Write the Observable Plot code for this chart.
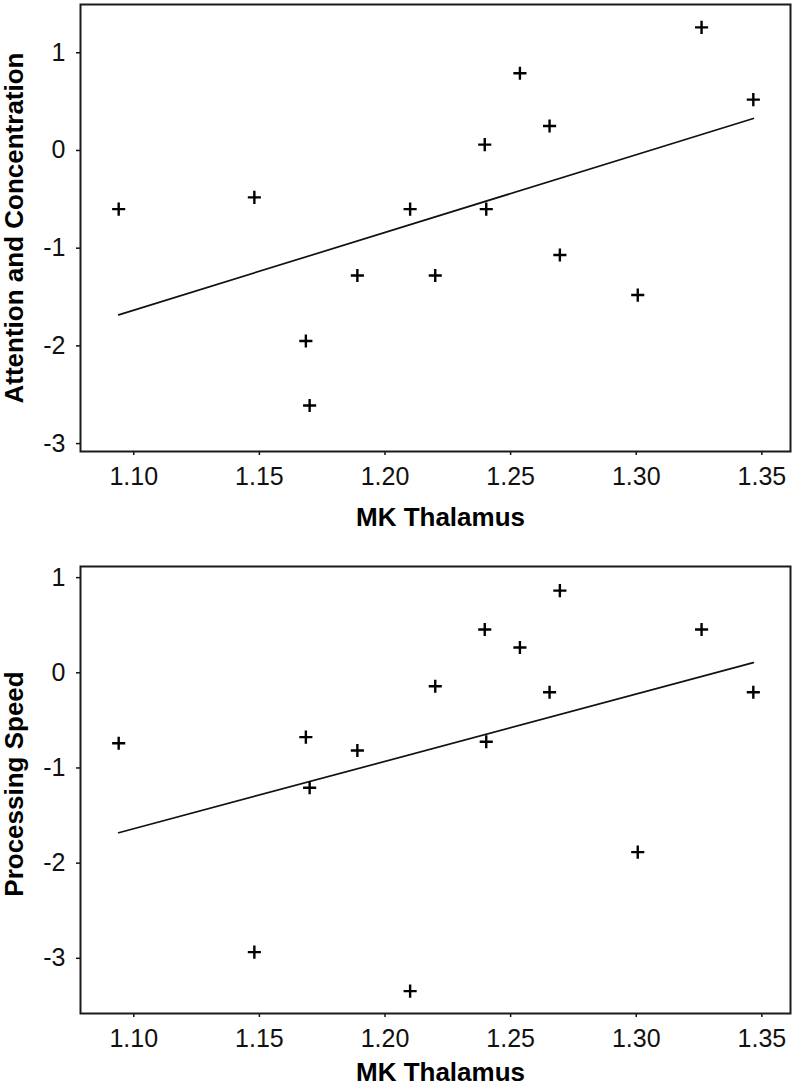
<!DOCTYPE html>
<html>
<head>
<meta charset="utf-8">
<script src="https://cdn.jsdelivr.net/npm/d3@7"></script>
<script src="https://cdn.jsdelivr.net/npm/@observablehq/plot@0.6"></script>
<style>
  html, body { margin: 0; padding: 0; background: #fff; }
  #chart svg { display: block; }
</style>
</head>
<body>
<div id="chart"></div>
<script>
// MK Thalamus values (shared x for both panels)
const mkThalamus = [1.094, 1.148, 1.1685, 1.170, 1.189, 1.210, 1.220, 1.2397, 1.2403, 1.2537, 1.2655, 1.2696, 1.3006, 1.326, 1.3466];
// Attention and Concentration scores
const attention = [-0.60, -0.48, -1.95, -2.61, -1.28, -0.60, -1.28, 0.06, -0.60, 0.79, 0.25, -1.07, -1.48, 1.26, 0.52];
// Processing Speed scores
const processingSpeed = [-0.74, -2.935, -0.676, -1.208, -0.816, -3.345, -0.141, 0.455, -0.725, 0.266, -0.204, 0.864, -1.884, 0.455, -0.204];

const xTicks = [1.10, 1.15, 1.20, 1.25, 1.30, 1.35];
const yTicks = [-3, -2, -1, 0, 1];
const xLabel = "MK Thalamus";
const yLabelTop = "Attention and Concentration";
const yLabelBottom = "Processing Speed";

const font = "'Liberation Sans', Arial, Helvetica, sans-serif";

function panel(values, yLabel, opts) {
  const data = mkThalamus.map((x, i) => ({x, y: values[i]}));
  return Plot.plot({
    width: 794,
    height: opts.height,
    marginTop: opts.marginTop,
    marginBottom: opts.marginBottom,
    marginLeft: 80,
    marginRight: 4,
    style: {fontFamily: font, fontSize: "25px", color: "#111", background: "#fff"},
    x: {domain: [1.0788, 1.3614]},
    y: {domain: opts.yDomain},
    marks: [
      Plot.axisX({ticks: xTicks, tickFormat: d3.format(".2f"), tickSize: 4, tickPadding: 12, fontSize: 25, label: null, strokeWidth: 1.5}),
      Plot.axisY({ticks: yTicks, tickFormat: d => String(d), tickSize: 4, tickPadding: 11, fontSize: 25, label: null, strokeWidth: 1.5}),
      Plot.frame({stroke: "#1a1a1a", strokeWidth: 2}),
      Plot.linearRegressionY(data, {x: "x", y: "y", ci: 0, stroke: "#111", strokeWidth: 1.7}),
      Plot.dot(data, {x: "x", y: "y", symbol: "plus", r: 4.3, stroke: "#000", strokeWidth: 2.4}),
      Plot.text([xLabel], {frameAnchor: "bottom", dy: opts.xTitleDy, dx: 5, fontSize: 26, fontWeight: "bold", textAnchor: "middle", lineAnchor: "middle", fill: "#000"}),
      Plot.text([yLabel], {frameAnchor: "left", rotate: -90, dx: -66, dy: opts.yTitleDy, fontSize: 26, fontWeight: "bold", textAnchor: "middle", lineAnchor: "middle", fill: "#000"})
    ]
  });
}

const chart = document.getElementById("chart");
chart.appendChild(panel(attention, yLabelTop, {height: 545, marginTop: 4, marginBottom: 94, yDomain: [-3.081, 1.494], yTitleDy: 0, xTitleDy: 66}));
chart.appendChild(panel(processingSpeed, yLabelBottom, {height: 542, marginTop: 21, marginBottom: 74, yDomain: [-3.58, 1.117], yTitleDy: -6, xTitleDy: 59}));
</script>
</body>
</html>
